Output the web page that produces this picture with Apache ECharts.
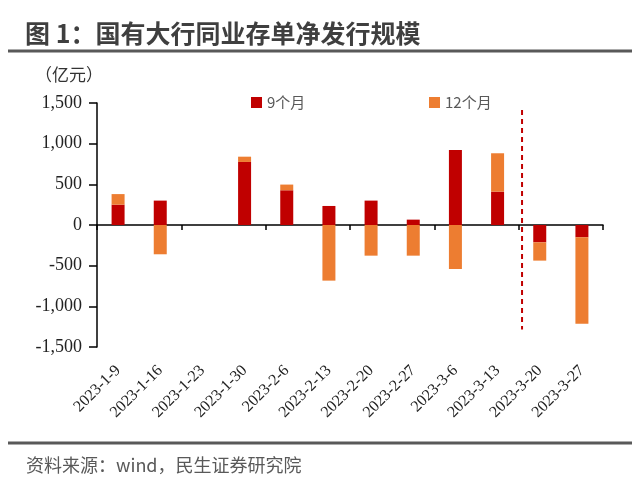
<!DOCTYPE html>
<html><head><meta charset="utf-8">
<script src="https://cdn.jsdelivr.net/npm/echarts@6/dist/echarts.min.js"></script>
<style>html,body{margin:0;padding:0;background:#fff}#c{width:640px;height:482px}</style>
</head><body><div id="c"></div>
<script>
var categories = ['2023-1-9','2023-1-16','2023-1-23','2023-1-30','2023-2-6','2023-2-13','2023-2-20','2023-2-27','2023-3-6','2023-3-13','2023-3-20','2023-3-27'];
var nineMonth = [250, 300, 0, 775, 427, 234, 300, 66, 922, 410, -213, -151];
var twelveMonth = [130, -360, 0, 65, 70, -684, -377, -377, -541, 472, -225, -1062];
var yTicks = {min: -1500, max: 1500, interval: 500};
var dividerX = [10.08, 10.08];
var dividerY = [1415, -1285];

var chart = echarts.init(document.getElementById('c'), null, {renderer: 'canvas'});
var serif = 'Liberation Serif';
var cjk = 'Noto Sans CJK SC';
chart.setOption({
  animation: false,
  backgroundColor: '#fff',
  title: [
    {text: '图 1：国有大行同业存单净发行规模', left: 20, top: 16,
     textStyle: {fontFamily: cjk, fontWeight: 'bold', fontSize: 25, color: '#3f3f3f'}},
    {text: '（亿元）', left: 30, top: 61,
     textStyle: {fontFamily: cjk, fontWeight: 'normal', fontSize: 17, color: '#333'}},
    {text: '资料来源：wind，民生证券研究院', left: 21, top: 451,
     textStyle: {fontFamily: cjk, fontWeight: 'normal', fontSize: 18, color: '#595959'}}
  ],
  graphic: [
    {type: 'line', shape: {x1: 8, y1: 51, x2: 632, y2: 51}, style: {stroke: '#595959', lineWidth: 3}},
    {type: 'line', shape: {x1: 8, y1: 443, x2: 632, y2: 443}, style: {stroke: '#595959', lineWidth: 3}}
  ],
  legend: [
    {data: ['9个月'], left: 246, top: 90, itemWidth: 11, itemHeight: 11, icon: 'rect', itemGap: 4,
     textStyle: {fontFamily: cjk, fontSize: 15, color: '#595959'}},
    {data: ['12个月'], left: 424, top: 90, itemWidth: 11, itemHeight: 11, icon: 'rect',
     textStyle: {fontFamily: cjk, fontSize: 15, color: '#595959'}}
  ],
  grid: {left: 97, right: 37, top: 103, bottom: 135, containLabel: false},
  xAxis: [
    {type: 'category', data: categories, position: 'bottom', gridIndex: 0,
     axisLine: {show: false, onZero: false}, axisTick: {show: false},
     axisLabel: {show: true, rotate: 45, fontFamily: serif, fontSize: 16, color: '#222', margin: 21, interval: 0}},
    {type: 'category', data: categories, position: 'bottom', gridIndex: 0,
     axisLine: {show: true, onZero: true, lineStyle: {color: '#000', width: 1.5}},
     axisTick: {show: true, inside: false, length: 5, lineStyle: {color: '#000', width: 1.5}},
     axisLabel: {show: false}},
    {type: 'value', min: 0, max: 12, show: false, gridIndex: 0}
  ],
  yAxis: {type: 'value', min: yTicks.min, max: yTicks.max, interval: yTicks.interval,
    axisLine: {show: true, lineStyle: {color: '#000', width: 1.5}},
    axisTick: {show: true, length: 8, lineStyle: {color: '#000', width: 1.5}},
    splitLine: {show: false},
    axisLabel: {show: true, fontFamily: serif, fontSize: 18, color: '#222', margin: 15,
      formatter: function (v) { return v.toLocaleString('en-US'); }}},
  series: [
    {name: '9个月', type: 'bar', stack: 'a', xAxisIndex: 1, data: nineMonth, barWidth: 13,
     itemStyle: {color: '#C00000'}},
    {name: '12个月', type: 'bar', stack: 'a', xAxisIndex: 1, data: twelveMonth, barWidth: 13,
     itemStyle: {color: '#ED7D31'}},
    {name: 'divider', type: 'line', xAxisIndex: 2, symbol: 'none',
     data: [[dividerX[0], dividerY[0]], [dividerX[1], dividerY[1]]],
     lineStyle: {color: '#C00000', width: 2, type: [5, 4]}, silent: true}
  ]
});
</script></body></html>
